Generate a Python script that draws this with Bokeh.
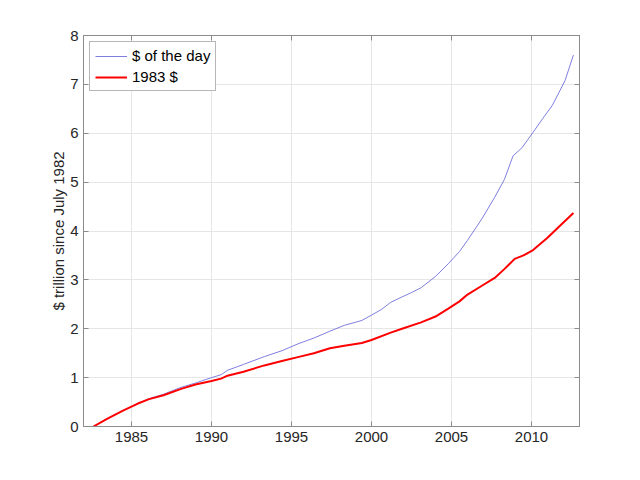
from bokeh.plotting import figure
from bokeh.models import LinearAxis, FixedTicker, Range1d, Legend, LegendItem
from bokeh.embed import file_html
from bokeh.resources import INLINE

# $ of the day (nominal), trillion since July 1982
nominal_years = [1982.62, 1983.5, 1984.5, 1985.4, 1986.1, 1987.0, 1988.0, 1989.0,
                 1990.0, 1990.6, 1991.0, 1992.0, 1993.3, 1994.4, 1995.4, 1996.4,
                 1997.4, 1998.3, 1999.4, 2000.0, 2000.6, 2001.2, 2001.9, 2002.5,
                 2003.1, 2004.0, 2004.8, 2005.5, 2006.0, 2006.9, 2007.7, 2008.3,
                 2008.85, 2009.4, 2010.1, 2010.7, 2011.3, 2012.1, 2012.62]
nominal_vals = [0.0, 0.16, 0.33, 0.47, 0.57, 0.66, 0.79, 0.89,
                1.00, 1.06, 1.15, 1.27, 1.43, 1.55, 1.69, 1.81,
                1.95, 2.07, 2.17, 2.28, 2.39, 2.54, 2.65, 2.74,
                2.84, 3.07, 3.33, 3.58, 3.81, 4.25, 4.69, 5.05,
                5.54, 5.70, 6.02, 6.30, 6.57, 7.08, 7.60]

# 1983 $ (real)
real_years = [1982.62, 1983.5, 1984.5, 1985.4, 1986.1, 1987.0, 1988.1, 1989.0,
              1990.0, 1990.6, 1991.0, 1992.0, 1993.3, 1994.4, 1995.4, 1996.4,
              1997.4, 1998.3, 1999.4, 2000.0, 2001.2, 2002.0, 2003.1, 2004.0,
              2004.8, 2005.5, 2006.0, 2006.9, 2007.7, 2008.3, 2008.95, 2009.5,
              2010.1, 2011.0, 2011.7, 2012.62]
real_vals = [0.0, 0.16, 0.33, 0.47, 0.56, 0.64, 0.77, 0.86,
             0.93, 0.98, 1.04, 1.12, 1.25, 1.34, 1.42, 1.50,
             1.60, 1.65, 1.71, 1.77, 1.92, 2.01, 2.13, 2.25,
             2.41, 2.56, 2.70, 2.88, 3.04, 3.22, 3.43, 3.50,
             3.61, 3.86, 4.08, 4.37]

x_ticks = [1985, 1990, 1995, 2000, 2005, 2010]
y_ticks = [0, 1, 2, 3, 4, 5, 6, 7, 8]

FONT = "Liberation Sans"
AX_COL = "#8c8c8c"
TXT_COL = "#262626"

p = figure(width=624, height=464, output_backend="svg", toolbar_location=None,
           x_range=Range1d(1982, 2013), y_range=Range1d(0, 8),
           min_border_left=83, min_border_right=45, min_border_top=35,
           min_border_bottom=38, background_fill_color="white",
           border_fill_color="white")
p.outline_line_color = AX_COL

l1 = p.line(nominal_years, nominal_vals, line_color="#7070dc", line_width=0.9)
l2 = p.line(real_years, real_vals, line_color="#ff0000", line_width=2)

for ax in [p.xaxis[0], p.yaxis[0]]:
    ax.axis_line_color = AX_COL
    ax.major_tick_line_color = AX_COL
    ax.major_tick_in = 5
    ax.major_tick_out = 0
    ax.minor_tick_line_color = None
    ax.major_label_text_font = FONT
    ax.major_label_text_font_size = "15px"
    ax.major_label_text_color = TXT_COL
    ax.major_label_standoff = 5

p.xaxis[0].ticker = FixedTicker(ticks=x_ticks)
p.yaxis[0].ticker = FixedTicker(ticks=y_ticks)
p.yaxis[0].axis_label = "$ trillion since July 1982"
p.yaxis[0].axis_label_text_font = FONT
p.yaxis[0].axis_label_text_font_size = "15px"
p.yaxis[0].axis_label_text_font_style = "normal"
p.yaxis[0].axis_label_text_color = TXT_COL
p.yaxis[0].axis_label_standoff = 0

for loc, tick in [("above", x_ticks), ("right", y_ticks)]:
    ax = LinearAxis(ticker=FixedTicker(ticks=tick))
    ax.axis_line_color = AX_COL
    ax.major_tick_line_color = AX_COL
    ax.major_tick_in = 5
    ax.major_tick_out = 0
    ax.minor_tick_line_color = None
    ax.major_label_overrides = {t: "" for t in tick}
    ax.major_label_standoff = 0
    p.add_layout(ax, loc)

p.xgrid.ticker = FixedTicker(ticks=x_ticks)
p.ygrid.ticker = FixedTicker(ticks=y_ticks)
p.xgrid.grid_line_color = "#e6e6e6"
p.ygrid.grid_line_color = "#e6e6e6"

legend = Legend(items=[LegendItem(label="$ of the day", renderers=[l1]),
                       LegendItem(label="1983 $", renderers=[l2])],
                location="top_left")
legend.margin = 6
legend.padding = 5
legend.spacing = 4
legend.glyph_width = 32
legend.glyph_height = 14
legend.label_height = 14
legend.label_standoff = 5
legend.label_text_font = FONT
legend.label_text_font_size = "15px"
legend.label_text_color = "black"
legend.border_line_color = "#707070"
legend.border_line_width = 1
legend.background_fill_color = "white"
legend.background_fill_alpha = 1
p.add_layout(legend)

open("out.html", "w").write(file_html(p, INLINE))
